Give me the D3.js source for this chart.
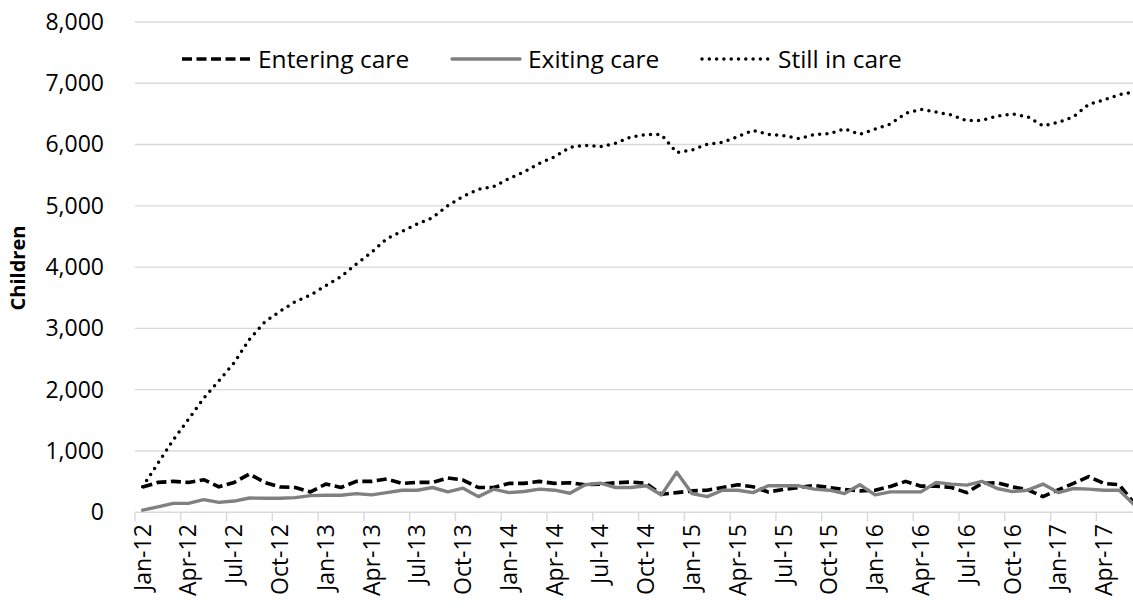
<!DOCTYPE html>
<html>
<head>
<meta charset="utf-8">
<script src="https://cdn.jsdelivr.net/npm/d3@7"></script>
<style>
  html, body { margin: 0; padding: 0; background: #fff; }
  svg { display: block; font-family: "Open Sans", sans-serif; }
</style>
</head>
<body>
<svg id="chart" width="1133" height="613"></svg>
<script>
// ---- data ----
const monthStart = new Date(2012, 0, 1);
const monthEnd = new Date(2017, 6, 1); // exclusive -> Jan-12 .. Jun-17
const categories = d3.timeMonth.range(monthStart, monthEnd);
const fmt = d3.timeFormat("%b-%y");

const seriesNames = ["Entering care", "Exiting care", "Still in care"];

const enteringCare = [410, 486, 503, 486, 530, 414, 486, 624, 486, 414,
  403, 331, 459, 403, 503, 503, 541, 470, 486, 486,
  558, 525, 403, 403, 470, 470, 503, 470, 481, 448,
  459, 481, 492, 470, 293, 320, 348, 359, 403, 448,
  414, 331, 370, 403, 436, 403, 370, 348, 359, 420,
  503, 425, 425, 403, 320, 470, 481, 414, 365, 254,
  365, 470, 580, 470, 448, 138];

const exitingCare = [33, 88, 144, 144, 204, 160, 182, 232, 227, 227,
  238, 271, 276, 276, 304, 282, 320, 359, 359, 403,
  331, 392, 254, 376, 320, 337, 376, 359, 309, 448,
  475, 403, 403, 431, 282, 652, 304, 254, 359, 359,
  320, 431, 431, 431, 376, 359, 304, 448, 282, 331,
  331, 331, 486, 459, 442, 503, 387, 337, 359, 459,
  320, 387, 376, 359, 359, 116];

const stillInCare = [416, 797, 1178, 1516, 1858, 2146, 2440, 2821, 3104, 3278,
  3435, 3544, 3696, 3843, 4050, 4241, 4463, 4584, 4703, 4806,
  5002, 5155, 5269, 5312, 5443, 5552, 5693, 5801, 5955, 5987,
  5965, 6020, 6123, 6166, 6161, 5867, 5911, 6003, 6036, 6128,
  6232, 6166, 6144, 6098, 6161, 6177, 6259, 6166, 6253, 6335,
  6509, 6574, 6531, 6482, 6389, 6395, 6465, 6498, 6454, 6307,
  6362, 6454, 6656, 6731, 6813, 6862];

const yTicks = [0, 1000, 2000, 3000, 4000, 5000, 6000, 7000, 8000];
const yLabel = "Children";

// ---- layout ----
const svg = d3.select("#chart");
const plotLeft = 135, plotTop = 22, plotBottom = 512.2;
const step = 15.26;
const plotRight = plotLeft + step * categories.length;

const x = d3.scaleBand().domain(categories.map(fmt)).range([plotLeft, plotRight]).padding(0);
const y = d3.scaleLinear().domain([0, 8000]).range([plotBottom, plotTop]);
const cx = (i) => x(fmt(categories[i])) + x.bandwidth() / 2;

// gridlines
svg.append("g").selectAll("line").data(yTicks.filter(d => d > 0)).join("line")
  .attr("x1", plotLeft).attr("x2", plotRight)
  .attr("y1", d => y(d)).attr("y2", d => y(d))
  .attr("stroke", "#d9d9d9").attr("stroke-width", 1.4);

// y axis labels
const yAxis = d3.axisLeft(y).tickValues(yTicks).tickFormat(d3.format(",")).tickSize(0).tickPadding(0);
const gy = svg.append("g").attr("transform", `translate(104,0)`).call(yAxis);
gy.select(".domain").remove();
gy.selectAll("text").attr("font-size", 23).attr("fill", "#000").attr("font-family", "Open Sans, sans-serif");

// x axis
const labelCats = categories.filter((d, i) => i % 3 === 0).map(fmt);
const xAxis = d3.axisBottom(x).tickValues(labelCats).tickSize(0).tickPadding(0);
const gx = svg.append("g").attr("transform", `translate(0,${plotBottom})`).call(xAxis);
gx.select(".domain").attr("stroke", "#d9d9d9").attr("stroke-width", 1.4)
  .attr("d", `M${plotLeft},0H${plotRight}`);
gx.selectAll("text")
  .attr("font-size", 23).attr("fill", "#000").attr("font-family", "Open Sans, sans-serif")
  .attr("text-anchor", "end")
  .attr("transform", "translate(0,12) rotate(-90)")
  .attr("dx", 0).attr("dy", "0.35em").attr("y", 0).attr("x", 0);
// tick marks at category boundaries
gx.append("g").selectAll("line").data(labelCats).join("line")
  .attr("x1", d => x(d)).attr("x2", d => x(d))
  .attr("y1", 0).attr("y2", 9)
  .attr("stroke", "#d9d9d9").attr("stroke-width", 1.4);

// y label
svg.append("text")
  .attr("transform", `translate(25,268) rotate(-90)`)
  .attr("text-anchor", "middle")
  .attr("font-size", 20).attr("font-weight", "bold").attr("fill", "#000")
  .text(yLabel);

// lines
const styles = [
  { data: enteringCare, stroke: "#000", width: 3.6, dash: "10,4.5", cap: "butt" },
  { data: exitingCare, stroke: "#808080", width: 3.4, dash: null, cap: "round" },
  { data: stillInCare, stroke: "#000", width: 3.5, dash: "0,7.3", cap: "round" }
];
const line = d3.line().x((d, i) => cx(i)).y(d => y(d)).curve(d3.curveLinear);
styles.forEach(s => {
  svg.append("path").datum(s.data)
    .attr("d", line)
    .attr("fill", "none")
    .attr("stroke", s.stroke)
    .attr("stroke-width", s.width)
    .attr("stroke-linejoin", "round")
    .attr("stroke-linecap", s.cap)
    .attr("stroke-dasharray", s.dash);
});

// legend
const legendItems = [
  { name: seriesNames[0], x0: 182, x1: 252, tx: 258, s: styles[0] },
  { name: seriesNames[1], x0: 452, x1: 520, tx: 528, s: styles[1] },
  { name: seriesNames[2], x0: 702, x1: 768, tx: 778, s: styles[2] }
];
const lg = svg.append("g");
legendItems.forEach(it => {
  lg.append("line")
    .attr("x1", it.x0).attr("x2", it.x1).attr("y1", 59).attr("y2", 59)
    .attr("stroke", it.s.stroke).attr("stroke-width", it.s.width)
    .attr("stroke-linecap", it.s.cap)
    .attr("stroke-dasharray", it.s.dash);
  lg.append("text").attr("x", it.tx).attr("y", 68)
    .attr("font-size", 24.5).attr("fill", "#000")
    .text(it.name);
});
</script>
</body>
</html>
